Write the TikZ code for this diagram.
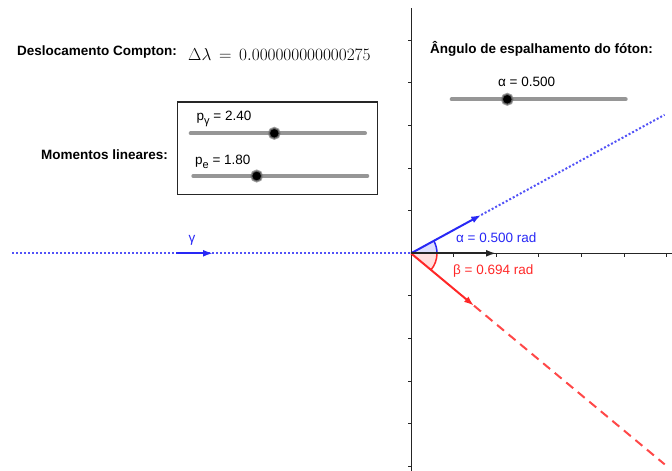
\documentclass[tikz,border=0pt]{standalone}
\usepackage[no-math]{fontspec}
\setmainfont{Liberation Sans}
\usetikzlibrary{arrows.meta,calc}
\definecolor{ggblue}{RGB}{40,40,245}
\definecolor{ggred}{RGB}{255,40,40}
\definecolor{trackgray}{RGB}{150,150,150}
\definecolor{axisgray}{RGB}{37,37,37}
\begin{document}
\begin{tikzpicture}[x=1pt,y=-1pt,
  font=\fontsize{13.5}{16}\selectfont,
  lbl/.style={inner sep=0pt, anchor=west},
  boldlbl/.style={lbl, font=\fontsize{13.5}{16}\selectfont\bfseries},
  track/.style={line width=4pt, trackgray, line cap=round},
  knob/.style={circle, fill=black, draw=gray, draw opacity=0.75, line width=2pt, minimum size=11pt, inner sep=0pt},
  axisline/.style={line width=0.9pt, axisgray},
  vec/.style={line width=2pt, -{Latex[length=10pt,width=7pt]}},
  dotline/.style={line width=2pt, dash pattern=on 2pt off 2pt},
  dashline/.style={line width=2pt, dash pattern=on 9pt off 6pt},
  box/.style={draw=black!85, line width=1.5pt, minimum width=200pt, minimum height=92.5pt, inner sep=0pt}
]
\useasboundingbox (0,0) rectangle (672,471);

% ---- axes ----
\coordinate (O) at (411,253.3);
\coordinate (ytop) at (411,8);
\coordinate (ybot) at (411,471);
\coordinate (xend) at (672,253.3);
\draw[axisline] (ytop) -- (ybot);
\draw[axisline] (O) -- (xend);
\foreach \k in {-5,...,-1,1,2,3,4,5}
  \draw[axisline] (411,253.3+42.6*\k) -- ++(-3.5,0);
\foreach \k in {1,...,6}
  \draw[axisline] (411+42.6*\k,253.3) -- ++(0,3.5);

% ---- angle wedges ----
\fill[ggblue!15] (O) -- ++(26,0) arc[start angle=0, end angle=-28.65, radius=26] -- cycle;
\draw[ggblue, line width=1.5pt] ($(O)+(26,0)$) arc[start angle=0, end angle=-28.65, radius=26];
\fill[ggred!15] (O) -- ++(26,0) arc[start angle=0, end angle=39.76, radius=26] -- cycle;
\draw[ggred, line width=1.5pt] ($(O)+(26,0)$) arc[start angle=0, end angle=39.76, radius=26];

% ---- incoming photon ----
\coordinate (Lstart) at (12,253.3);
\coordinate (ga) at (176,253.3);
\coordinate (gb) at (213,253.3);
\draw[ggblue!80, dotline] (Lstart) -- (O);
\draw[ggblue, vec] (ga) -- (gb);
\node[text=ggblue, inner sep=0pt] (gam) at (192,240) {γ};

% ---- scattered photon ----
\coordinate (Gt) at (481.2,214.95);
\coordinate (Gend) at (664.6,114.8);
\draw[ggblue!80, dotline] (Gt) -- (Gend);
\draw[ggblue, vec] (O) -- (Gt);

% ---- electron ----
\coordinate (Et) at (474.0,305.7);
\coordinate (Eend) at (664.7,464.4);
\draw[ggred!85, dashline] (Et) -- (Eend);
\draw[ggred, vec] (O) -- (Et);

% ---- incoming momentum on axis ----
\coordinate (Bt) at (496,253.3);
\draw[axisgray, line width=1.8pt, -{Latex[length=10pt,width=7pt]}] (O) -- (Bt);

% ---- angle labels ----
\node[lbl, text=ggblue] (alab) at (456,238) {α = 0.500 rad};
\node[lbl, text=ggred] (blab) at (453,271.5) {β = 0.694 rad};

% ---- top left texts ----
\node[boldlbl] (dc) at (17,52.5) {Deslocamento Compton:};
\node[lbl, font=\fontsize{16}{19}\selectfont] (dl) at (188,54.5) {$\Delta\lambda\,=\,0.000000000000275$};
\node[boldlbl] (ml) at (41,155) {Momentos lineares:};

% ---- momentum box ----
\node[box] (mbox) at (277.7,148) {};
\node[inner sep=0pt, anchor=base west] (lpg) at (196.5,120) {p\raisebox{-4pt}{\fontsize{11}{12}\selectfont γ} = 2.40};
\coordinate (s1a) at (190.7,133.3);
\coordinate (s1b) at (365,133.3);
\draw[track] (s1a) -- (s1b);
\node[knob] (k1) at (274.3,133.3) {};
\node[inner sep=0pt, anchor=base west] (lpe) at (195,164) {p\raisebox{-4pt}{\fontsize{11}{12}\selectfont e} = 1.80};
\coordinate (s2a) at (193.3,176);
\coordinate (s2b) at (367.3,176);
\draw[track] (s2a) -- (s2b);
\node[knob] (k2) at (256.7,176) {};

% ---- scattering angle slider ----
\node[boldlbl] (ang) at (430,49) {Ângulo de espalhamento do fóton:};
\node[lbl] (alpha) at (498,82) {α = 0.500};
\coordinate (s3a) at (451.7,99.3);
\coordinate (s3b) at (625.7,99.3);
\draw[track] (s3a) -- (s3b);
\node[knob] (k3) at (507.3,99.3) {};
\end{tikzpicture}
\end{document}
